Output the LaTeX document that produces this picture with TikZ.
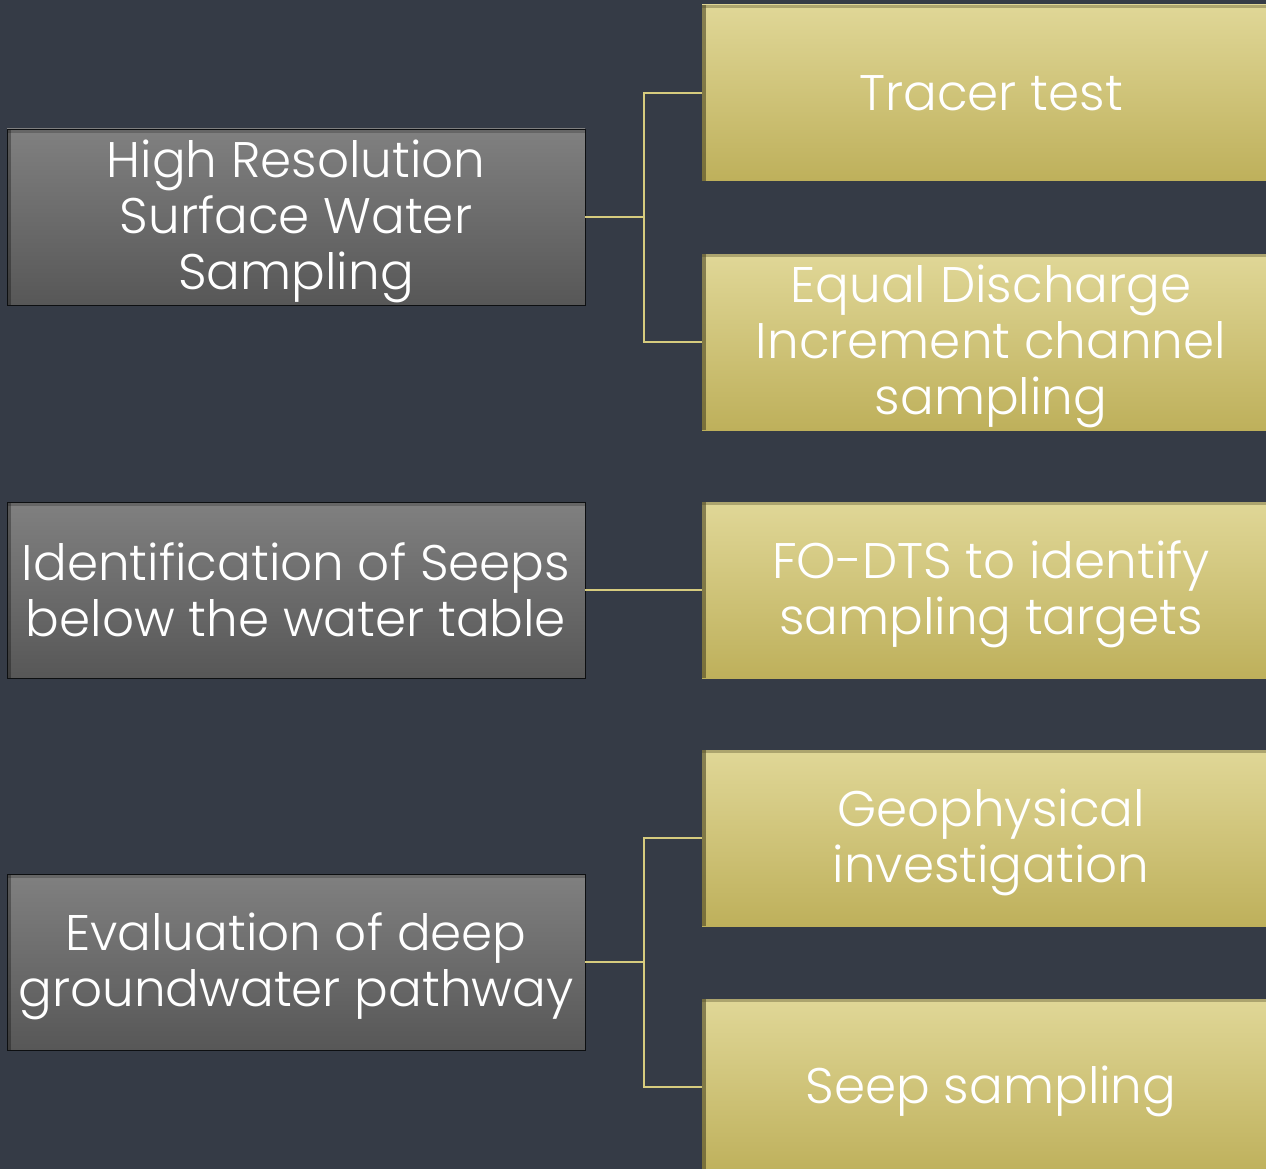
\documentclass[tikz,border=0pt]{standalone}
\usepackage{fontspec}
\IfFontExistsTF{Poppins Light}{\setmainfont{Poppins Light}}{\setmainfont{Poppins}}
\definecolor{bg}{HTML}{353B46}
\definecolor{goldtop}{HTML}{E0D797}
\definecolor{goldbot}{HTML}{BEB05B}
\definecolor{graytop}{HTML}{808080}
\definecolor{graybot}{HTML}{575757}
\definecolor{conn}{HTML}{D6CB7E}
\newcommand{\mystrut}{\rule[-10pt]{0pt}{56pt}}
\tikzset{
  boxbase/.style={rectangle, minimum width=578pt, minimum height=176pt, inner sep=0pt,
    align=center, text=white, font={\fontsize{50}{56}\selectfont\lineskiplimit=-200pt\lineskip=0pt}},
  graybox/.style={boxbase, top color=graytop, bottom color=graybot, draw=black!75!bg, line width=0.8pt,
    path picture={\fill[black,opacity=0.3] (path picture bounding box.north west) rectangle ([xshift=4pt]path picture bounding box.south west);
                  \fill[black,opacity=0.2] (path picture bounding box.north west) rectangle ([yshift=-4pt]path picture bounding box.north east);}},
  goldbox/.style={boxbase, top color=goldtop, bottom color=goldbot,
    path picture={\fill[black!60!goldbot,opacity=0.6] (path picture bounding box.north west) rectangle ([xshift=4pt]path picture bounding box.south west);
                  \fill[black!60!goldbot,opacity=0.35] (path picture bounding box.north west) rectangle ([yshift=-3pt]path picture bounding box.north east);}},
  link/.style={draw=conn, line width=1.6pt}
}
\begin{document}
\begin{tikzpicture}[x=1pt,y=-1pt]
\fill[bg] (0,0) rectangle (1266,1169);
\useasboundingbox (0,0) rectangle (1266,1169);
\clip (0,0) rectangle (1266,1169);
% left (gray) boxes
\node[graybox] (g1) at (296,217) {\mystrut High Resolution\\\mystrut Surface Water\\\mystrut Sampling};
\node[graybox] (g2) at (296,590) {\mystrut Identification of Seeps\\\mystrut below the water table};
\node[graybox] (g3) at (296,962) {\mystrut Evaluation of deep\\\mystrut groundwater pathway};
% right (gold) boxes
\node[goldbox] (t1) at (991,93) {\mystrut Tracer test};
\node[goldbox] (t2) at (991,342) {\mystrut Equal Discharge\\\mystrut Increment channel\\\mystrut sampling};
\node[goldbox] (t3) at (991,590) {\mystrut FO-DTS to identify\\\mystrut sampling targets};
\node[goldbox] (t4) at (991,838) {\mystrut Geophysical\\\mystrut investigation};
\node[goldbox] (t5) at (991,1087) {\mystrut Seep sampling};
% junctions
\coordinate (j1) at (644,217);
\coordinate (j3) at (644,962);
\draw[link] (g1.east) -- (j1) |- (t1.west);
\draw[link] (j1) |- (t2.west);
\draw[link] (g2.east) -- (t3.west);
\draw[link] (g3.east) -- (j3) |- (t4.west);
\draw[link] (j3) |- (t5.west);
\end{tikzpicture}
\end{document}
